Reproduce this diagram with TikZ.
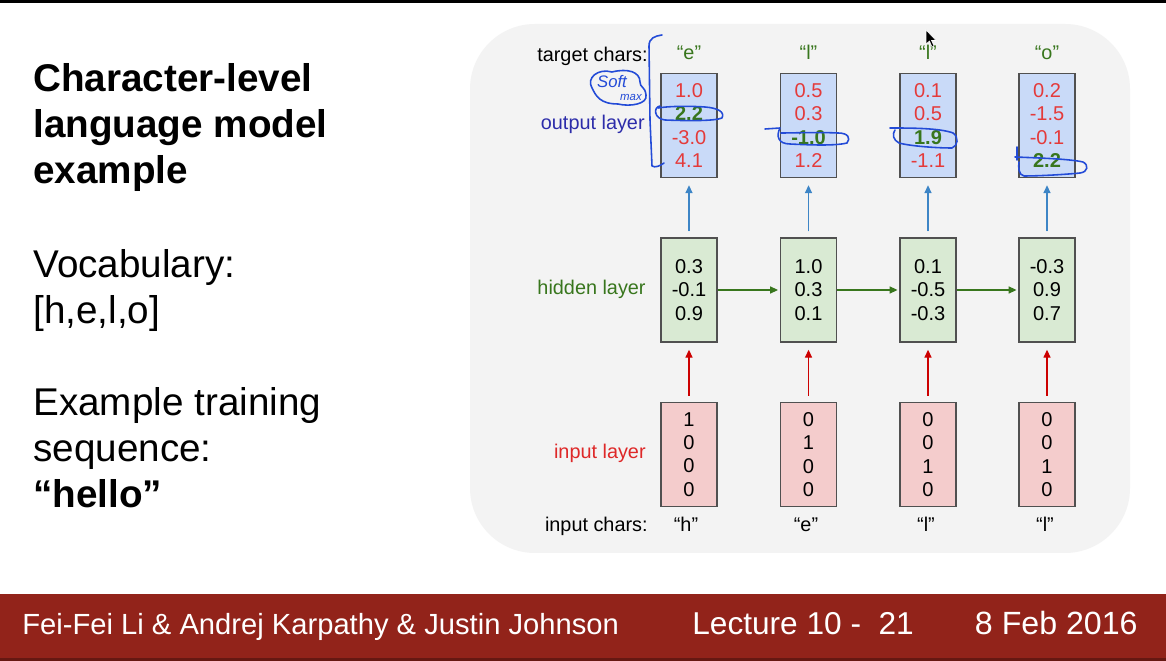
\documentclass[tikz,border=0pt]{standalone}
\usepackage{fontspec}
\setmainfont{Liberation Sans}
\usetikzlibrary{arrows.meta}
\definecolor{panelgray}{RGB}{243,243,243}
\definecolor{outfill}{RGB}{201,218,248}
\definecolor{hidfill}{RGB}{217,234,211}
\definecolor{infill}{RGB}{244,204,204}
\definecolor{boxline}{RGB}{80,80,80}
\definecolor{numred}{RGB}{228,58,58}
\definecolor{darkgreen}{RGB}{56,118,29}
\definecolor{outblue}{RGB}{45,45,170}
\definecolor{inred}{RGB}{222,40,40}
\definecolor{arrblue}{RGB}{61,133,198}
\definecolor{arrred}{RGB}{204,0,0}
\definecolor{ink}{RGB}{35,75,215}
\definecolor{footred}{RGB}{146,35,26}
\newcommand\hlnum[1]{\textcolor{darkgreen}{\bfseries #1}}
\tikzset{
  vecbox/.style={draw=boxline, line width=0.8pt, minimum width=1.12cm, minimum height=2.08cm,
    inner sep=0pt, align=center, font=\fontsize{11.4}{13.3}\selectfont},
  outbox/.style={vecbox, fill=outfill, text=numred},
  hidbox/.style={vecbox, fill=hidfill, text=black},
  inbox/.style={vecbox, fill=infill, text=black},
  lbl/.style={font=\fontsize{11.3}{13}\selectfont, inner sep=0pt},
  bigtxt/.style={font=\fontsize{22}{26}\selectfont, inner sep=0pt, anchor=base west},
  foottxt/.style={inner sep=0pt, anchor=base west, text=white},
  tipa/.style={-{Triangle[length=4.5pt,width=4pt]}, line width=0.7pt},
  uparrow/.style={tipa, shorten <=3.4pt, shorten >=4pt},
  sidearrow/.style={tipa, draw=darkgreen, shorten >=1pt},
  inkline/.style={draw=ink, line width=0.9pt, line cap=round, line join=round},
}
\begin{document}
\begin{tikzpicture}[x=0.02cm,y=-0.02cm]
\useasboundingbox (0,0) rectangle (1166,661);
\fill[white] (0,0) rectangle (1166,661);
\fill[black] (0,0) rectangle (1166,3);
% panel
\fill[panelgray, rounded corners=1.3cm] (470,24) rectangle (1130,553);
% footer
\fill[footred] (0,594) rectangle (1166,661);
\fill[footred!70!black] (0,658) rectangle (1166,661);
\node[foottxt, font=\fontsize{16.6}{20}\selectfont] (f1) at (22,635) {Fei-Fei Li \& Andrej Karpathy \& Justin Johnson};
\node[foottxt, font=\fontsize{18}{20}\selectfont] (f2) at (692,635) {Lecture 10 -\ \ 21};
\node[foottxt, font=\fontsize{18.3}{20}\selectfont, anchor=base east] (f3) at (1138,635) {8 Feb 2016};
% left text
\node[bigtxt] (t1) at (33,92) {\bfseries Character-level};
\node[bigtxt] (t2) at (33,138) {\bfseries language model};
\node[bigtxt] (t3) at (33,184) {\bfseries example};
\node[bigtxt] (v1) at (33,278) {Vocabulary:};
\node[bigtxt] (v2) at (33,324) {[h,e,l,o]};
\node[bigtxt] (e1) at (33,416) {Example training};
\node[bigtxt] (e2) at (33,462) {sequence:};
\node[bigtxt] (e3) at (33,508) {\bfseries “hello”};
% row labels
\node[lbl, anchor=base east] (ltc) at (648,62) {target chars:};
\node[lbl, anchor=base east, text=outblue] (lol) at (645,130) {output layer};
\node[lbl, anchor=base east, text=darkgreen] (lhl) at (646,295) {hidden layer};
\node[lbl, anchor=base east, text=inred] (lil) at (646,459) {input layer};
\node[lbl, anchor=base east] (lic) at (648,532) {input chars:};
% boxes
\node[outbox] (o1) at (689,125.5) {1.0\\\hlnum{2.2}\\-3.0\\4.1};
\node[outbox] (o2) at (808.5,125.5) {0.5\\0.3\\\hlnum{-1.0}\\1.2};
\node[outbox] (o3) at (928,125.5) {0.1\\0.5\\\hlnum{1.9}\\-1.1};
\node[outbox] (o4) at (1047,125.5) {0.2\\-1.5\\-0.1\\\hlnum{2.2}};
\node[hidbox] (h1) at (689,290) {0.3\\-0.1\\0.9};
\node[hidbox] (h2) at (808.5,290) {1.0\\0.3\\0.1};
\node[hidbox] (h3) at (928,290) {0.1\\-0.5\\-0.3};
\node[hidbox] (h4) at (1047,290) {-0.3\\0.9\\0.7};
\node[inbox] (i1) at (689,454.5) {1\\0\\0\\0};
\node[inbox] (i2) at (808.5,454.5) {0\\1\\0\\0};
\node[inbox] (i3) at (928,454.5) {0\\0\\1\\0};
\node[inbox] (i4) at (1047,454.5) {0\\0\\1\\0};
% chars
\node[lbl, anchor=base, text=darkgreen] (c1) at (689,60) {“e”};
\node[lbl, anchor=base, text=darkgreen] (c2) at (808.5,60) {“l”};
\node[lbl, anchor=base, text=darkgreen] (c3) at (928,60) {“l”};
\node[lbl, anchor=base, text=darkgreen] (c4) at (1047,60) {“o”};
\node[lbl, anchor=base] (d1) at (686,532) {“h”};
\node[lbl, anchor=base] (d2) at (806,532) {“e”};
\node[lbl, anchor=base] (d3) at (926,532) {“l”};
\node[lbl, anchor=base] (d4) at (1045,532) {“l”};
% arrows
\foreach \k in {1,2,3,4}{
  \draw[uparrow, draw=arrblue, fill=arrblue] (h\k) -- (o\k);
  \draw[uparrow, draw=arrred, fill=arrred] (i\k) -- (h\k);
}
\draw[sidearrow, fill=darkgreen] (h1) -- (h2);
\draw[sidearrow, fill=darkgreen] (h2) -- (h3);
\draw[sidearrow, fill=darkgreen] (h3) -- (h4);
% handwritten annotations
\draw[inkline] (662,35) .. controls (655,36) and (649,38) .. (649,46)
  -- (650,120) -- (652,166) .. controls (655,168) and (660,166) .. (664,163);
\draw[inkline] (660,106) .. controls (653,107) and (654,119) .. (665,120)
  .. controls (690,121) and (715,121) .. (722,118)
  .. controls (725,112) and (718,108) .. (705,107)
  .. controls (690,106) and (670,106) .. (658,108);
\draw[inkline] (612,72) .. controls (598,68) and (586,78) .. (592,88)
  .. controls (596,96) and (600,104) .. (618,104)
  .. controls (630,107) and (648,104) .. (646,95)
  .. controls (645,86) and (640,88) .. (640,82)
  .. controls (640,72) and (628,68) .. (612,72);
\node[font=\fontsize{9.5}{10}\selectfont\itshape, text=ink, inner sep=0pt, anchor=base] (sm1) at (612,88) {Soft};
\node[font=\fontsize{6.5}{7}\selectfont\itshape, text=ink, inner sep=0pt, anchor=base] (sm2) at (631,101) {max};
\draw[inkline] (765,129) -- (780,128) .. controls (776,136) and (778,144) .. (790,144)
  .. controls (810,145) and (835,146) .. (847,143)
  .. controls (851,138) and (848,133) .. (838,133)
  .. controls (815,132) and (795,133) .. (781,133);
\draw[inkline] (890,128) .. controls (910,128) and (940,128) .. (953,133)
  .. controls (959,137) and (958,146) .. (952,148)
  .. controls (935,148) and (910,146) .. (899,143)
  .. controls (893,140) and (892,134) .. (895,130);
\draw[inkline] (1017,147) -- (1017,160);
\draw[inkline] (1015,157) .. controls (1040,158) and (1070,159) .. (1083,162)
  .. controls (1089,165) and (1088,172) .. (1080,173)
  .. controls (1060,175) and (1035,176) .. (1024,176)
  .. controls (1019,175) and (1018,168) .. (1019,162);
% mouse cursor
\filldraw[fill=black, draw=white, line width=0.3pt] (926,30) -- (926,44) -- (929.5,41) -- (932,47)
  -- (934,46) -- (931.5,40.5) -- (936,40.5) -- cycle;
\end{tikzpicture}
\end{document}
